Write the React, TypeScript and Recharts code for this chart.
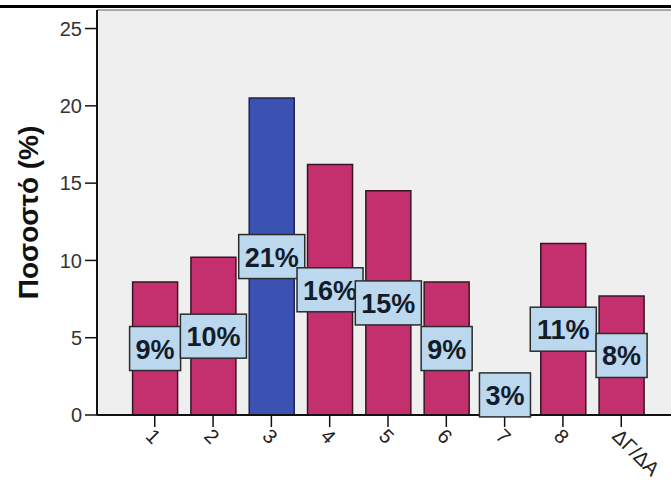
import { BarChart, Bar, XAxis, YAxis, CartesianGrid, Cell, LabelList, ReferenceLine } from "recharts";

const categories = ["1", "2", "3", "4", "5", "6", "7", "8", "ΔΓ/ΔΑ"];
const percentages = [8.6, 10.2, 20.5, 16.2, 14.5, 8.6, 2.6, 11.1, 7.7];
const valueLabels = ["9%", "10%", "21%", "16%", "15%", "9%", "3%", "11%", "8%"];
const highlightedCategory = "3";
const yTicks = [0, 5, 10, 15, 20, 25];

const FONT = "'Liberation Sans', Arial, sans-serif";
const PINK = "#c4306e";
const BLUE = "#3c52b2";

const data = categories.map((c, i) => ({ category: c, pct: percentages[i], label: valueLabels[i] }));

// rough Arial bold advance widths
const textWidth = (s: string, size: number) =>
  s.split("").reduce((w, ch) => w + (ch === "%" ? 0.889 : 0.556) * size, 0);

function ValueBox(props: any) {
  const { x, y, width, height, value } = props;
  const cx = Number(x) + Number(width) / 2;
  const cy = Number(y) + Number(height) / 2;
  const w = textWidth(String(value), 27) + 12;
  return (
    <g>
      <rect x={cx - w / 2} y={cy - 22} width={w} height={44} fill="#bcd8ee" stroke="#2b2b2b" strokeWidth={1.5} />
      <text x={cx} y={cy + 1} textAnchor="middle" dominantBaseline="central" fontSize={27} fontWeight="bold" fill="#121c2b" fontFamily={FONT}>
        {value}
      </text>
    </g>
  );
}

function SlantTick(props: any) {
  const { x, y, payload } = props;
  return (
    <text transform={`translate(${x},${y - 2}) rotate(45)`} textAnchor="start" dominantBaseline="hanging" fontSize={20} fill="#222" fontFamily={FONT}>
      {payload.value}
    </text>
  );
}

function AxisTitle(props: any) {
  const vb = props.viewBox || { x: 0, y: 10, height: 405 };
  const cx = 28;
  const cy = vb.y + vb.height / 2;
  return (
    <text transform={`translate(${cx},${cy}) rotate(-90)`} textAnchor="middle" dominantBaseline="central" fontSize={28} fontWeight="bold" fill="#111" fontFamily={FONT}>
      Ποσοστό (%)
    </text>
  );
}

export default function App() {
  return (
    <div style={{ position: "absolute", left: 0, top: 0, width: 671, height: 481, overflow: "hidden", background: "#fff" }}>
      <div style={{ position: "absolute", left: 0, top: 5, width: 671, height: 3, background: "#000" }} />
      <BarChart width={700} height={481} data={data} margin={{ top: 10, right: 21, bottom: 0, left: 0 }}>
        <CartesianGrid fill="#efefef" stroke="none" horizontal={false} vertical={false} />
        <ReferenceLine y={26.2} stroke="#a8a8a8" strokeWidth={2} />
        <XAxis
          dataKey="category"
          height={66}
          padding={{ left: 28.6, right: 28.6 }}
          axisLine={{ stroke: "#111", strokeWidth: 2 }}
          tickLine={{ stroke: "#111", strokeWidth: 1.5 }}
          tickSize={12}
          tick={<SlantTick />}
          interval={0}
        />
        <YAxis
          width={97}
          domain={[0, 26.2]}
          ticks={yTicks}
          axisLine={{ stroke: "#111", strokeWidth: 2 }}
          tickLine={{ stroke: "#111", strokeWidth: 1.5 }}
          tickSize={12}
          tickMargin={3}
          tick={{ fontSize: 20, fill: "#333", fontFamily: FONT }}
          label={<AxisTitle />}
        />
        <Bar dataKey="pct" barSize={45} stroke="#3a1424" strokeWidth={1.5} isAnimationActive={false}>
          {data.map((d) => (
            <Cell key={d.category} fill={d.category === highlightedCategory ? BLUE : PINK} stroke={d.category === highlightedCategory ? "#1c2450" : "#3a1424"} />
          ))}
          <LabelList dataKey="label" content={<ValueBox />} />
        </Bar>
      </BarChart>
    </div>
  );
}
